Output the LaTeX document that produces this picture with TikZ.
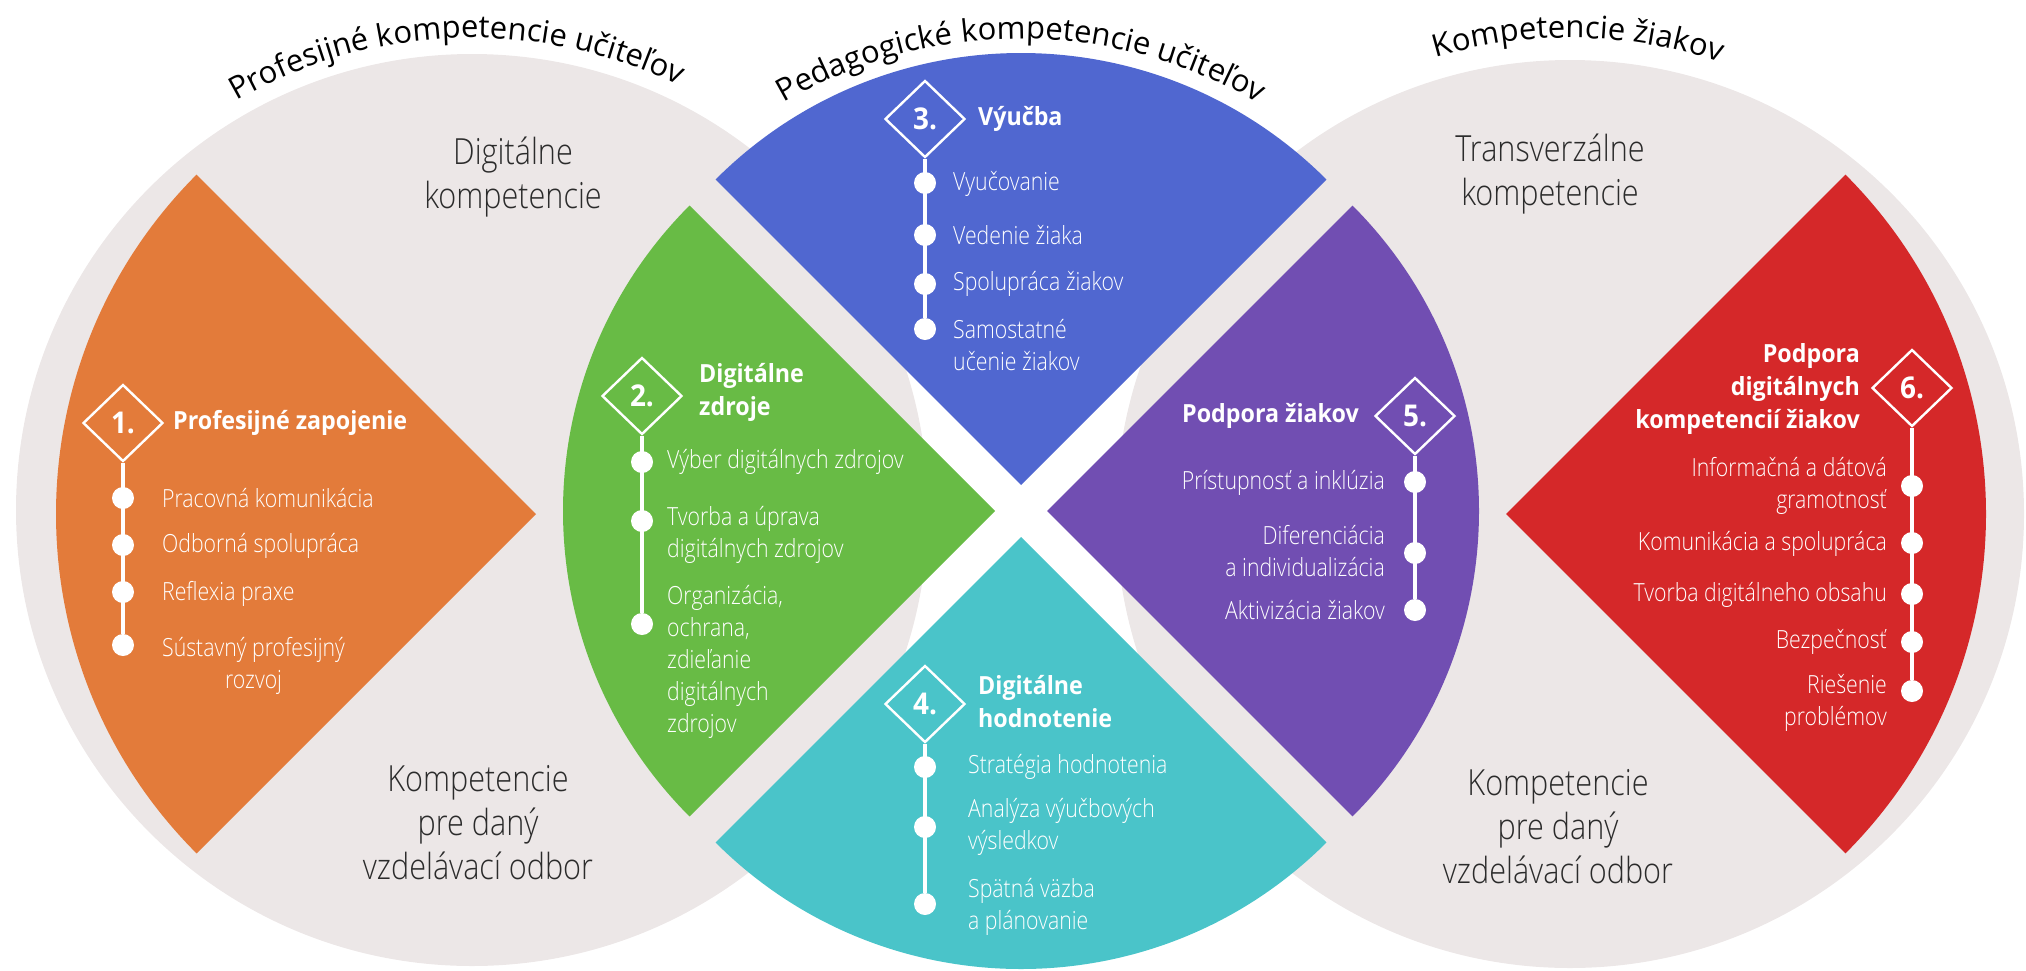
\documentclass[tikz,border=0pt]{standalone}
\usepackage{fontspec}
\setmainfont{Open Sans}
\usetikzlibrary{calc,decorations.text,shapes.geometric}

\IfFontExistsTF{Open Sans Light}
  {\newfontfamily\thinfont[FakeStretch=0.85]{Open Sans Light}}
  {\newfontfamily\thinfont[FakeStretch=0.85]{Open Sans}}
\newfontfamily\headfont[FakeStretch=0.93]{Open Sans}

\newcommand\titlesize{\fontsize{31}{36}\selectfont}
\newcommand\labelsize{\thinfont\fontsize{36}{44}\selectfont}
\newcommand\itemsize{\thinfont\fontsize{25}{32}\selectfont}
\newcommand\headsize{\headfont\bfseries\fontsize{25}{33}\selectfont}
\newcommand\numsize{\headfont\bfseries\fontsize{30}{30}\selectfont}

\definecolor{ringgray}{HTML}{ECE7E7}
\definecolor{labelgray}{HTML}{2B2B2B}
\definecolor{colProf}{HTML}{E37B3A}
\definecolor{colZdroje}{HTML}{68BB45}
\definecolor{colVyucba}{HTML}{5067D0}
\definecolor{colHodn}{HTML}{4AC4C9}
\definecolor{colPodpora}{HTML}{714EB2}
\definecolor{colDigi}{HTML}{D52829}

\tikzset{
  rhomb/.style={diamond, draw=white, line width=2.4pt, minimum width=80pt,
    minimum height=77pt, inner sep=0pt, text=white, font=\numsize},
  bead/.style={circle, fill=white, minimum size=22pt, inner sep=0pt},
  spine/.style={white, line width=4pt},
  itemL/.style={anchor=west, align=left, inner sep=0pt, text=white, font=\itemsize},
  itemR/.style={itemL, anchor=east, align=right},
  headL/.style={itemL, font=\headsize},
  headR/.style={itemR, font=\headsize},
  graylabel/.style={align=center, inner sep=0pt, text=labelgray, font=\labelsize},
}

\begin{document}
\begin{tikzpicture}[x=1pt, y=-1pt]
    \useasboundingbox (0,0) rectangle (2026,970);

    % centres of the three big discs
    \def\rad{456}
    \def\trad{472}
    \coordinate (L) at (472,510);
    \coordinate (F) at (1021,511);
    \coordinate (R) at (1570,514);

    % grey discs
    \fill[ringgray] (L) circle[radius=\rad];
    \fill[ringgray] (R) circle[radius=454];

    % titles along the arcs
    \path[decorate, decoration={text along path, text align=center,
        text={|\titlesize|Profesijné kompetencie učiteľov}}]
        ($(L)+(198:\trad)$) arc[start angle=198, end angle=338, radius=\trad];
    \path[decorate, decoration={text along path, text align=center,
        text={|\titlesize|Pedagogické kompetencie učiteľov}}]
        ($(F)+(200:\trad)$) arc[start angle=200, end angle=340, radius=\trad];
    \path[decorate, decoration={text along path, text align=center,
        text={|\titlesize|Kompetencie žiakov}}]
        ($(R)+(201:476)$) arc[start angle=201, end angle=341, radius=476];

    % outer wedges
    \fill[colProf] (536,514) -- ++(135:480) arc[start angle=135, end angle=225, radius=480] -- cycle;
    \fill[colDigi] (1506,514) -- ++(-45:480) arc[start angle=-45, end angle=45, radius=480] -- cycle;

    % the four quarters of the middle disc
    \def\qr{432}
    \fill[colZdroje] (995,511) -- ++(135:\qr) arc[start angle=135, end angle=225, radius=\qr] -- cycle;
    \fill[colVyucba] (1021,485) -- ++(225:\qr) arc[start angle=225, end angle=315, radius=\qr] -- cycle;
    \fill[colPodpora] (1047,511) -- ++(-45:\qr) arc[start angle=-45, end angle=45, radius=\qr] -- cycle;
    \fill[colHodn] (1021,537) -- ++(45:\qr) arc[start angle=45, end angle=135, radius=\qr] -- cycle;

    % grey labels
    \node[graylabel] (dk) at (513,177) {Digitálne\\kompetencie};
    \node[graylabel] (tk) at (1550,174) {Transverzálne\\kompetencie};
    \node[graylabel] (kl) at (478,823) {Kompetencie\\pre daný\\vzdelávací odbor};
    \node[graylabel] (kr) at (1558,827) {Kompetencie\\pre daný\\vzdelávací odbor};

    % 1. Profesijne zapojenie
    \node[rhomb] (d1) at (123,423) {1.};
    \node[headL] (h1) at (173,423) {Profesijné zapojenie};
    \foreach \y [count=\i] in {498,545,592,645}
        \node[bead] (d1\i) at (123,\y) {};
    \draw[spine] (d1) -- (d14);
    \node[itemL] (i11) at (162,498) {Pracovná komunikácia};
    \node[itemL] (i12) at (162,546) {Odborná spolupráca};
    \node[itemL] (i13) at (162,594) {Reflexia praxe};
    \node[itemL, align=center] (i14) at (162,666) {Sústavný profesijný\\rozvoj};

    % 2. Digitalne zdroje
    \node[rhomb] (d2) at (642,396) {2.};
    \node[headL] (h2) at (699,392) {Digitálne\\zdroje};
    \foreach \y [count=\i] in {462,521,624}
        \node[bead] (d2\i) at (642,\y) {};
    \draw[spine] (d2) -- (d23);
    \node[itemL] (i21) at (667,462) {Výber digitálnych zdrojov};
    \node[itemL] (i22) at (667,535) {Tvorba a úprava\\digitálnych zdrojov};
    \node[itemL] (i23) at (667,662) {Organizácia,\\ochrana,\\zdieľanie\\digitálnych\\zdrojov};

    % 3. Vyucba
    \node[rhomb] (d3) at (925,119) {3.};
    \node[headL] (h3) at (978,119) {Výučba};
    \foreach \y [count=\i] in {183,235,284,329}
        \node[bead] (d3\i) at (925,\y) {};
    \draw[spine] (d3) -- (d34);
    \node[itemL] (i31) at (953,184) {Vyučovanie};
    \node[itemL] (i32) at (953,235) {Vedenie žiaka};
    \node[itemL] (i33) at (953,284) {Spolupráca žiakov};
    \node[itemL] (i34) at (953,345) {Samostatné\\učenie žiakov};

    % 4. Digitalne hodnotenie
    \node[rhomb] (d4) at (925,704) {4.};
    \node[headL] (h4) at (978,702) {Digitálne\\hodnotenie};
    \foreach \y [count=\i] in {767,827,904}
        \node[bead] (d4\i) at (925,\y) {};
    \draw[spine] (d4) -- (d43);
    \node[itemL] (i41) at (968,767) {Stratégia hodnotenia};
    \node[itemL] (i42) at (968,827) {Analýza výučbových\\výsledkov};
    \node[itemL] (i43) at (968,907) {Spätná väzba\\a plánovanie};

    % 5. Podpora ziakov
    \node[rhomb] (d5) at (1415,416) {5.};
    \node[headR] (h5) at (1359,416) {Podpora žiakov};
    \foreach \y [count=\i] in {482,553,610}
        \node[bead] (d5\i) at (1415,\y) {};
    \draw[spine] (d5) -- (d53);
    \node[itemR] (i51) at (1385,483) {Prístupnosť a inklúzia};
    \node[itemR] (i52) at (1385,551) {Diferenciácia\\a individualizácia};
    \node[itemR] (i53) at (1385,610) {Aktivizácia žiakov};

    % 6. Podpora digitalnych kompetencii ziakov
    \node[rhomb] (d6) at (1912,388) {6.};
    \node[headR] (h6) at (1860,389) {Podpora\\digitálnych\\kompetencií žiakov};
    \foreach \y [count=\i] in {486,543,594,642,691}
        \node[bead] (d6\i) at (1912,\y) {};
    \draw[spine] (d6) -- (d65);
    \node[itemR] (i61) at (1887,486) {Informačná a dátová\\gramotnosť};
    \node[itemR] (i62) at (1887,544) {Komunikácia a spolupráca};
    \node[itemR] (i63) at (1887,595) {Tvorba digitálneho obsahu};
    \node[itemR] (i64) at (1887,642) {Bezpečnosť};
    \node[itemR] (i65) at (1887,703) {Riešenie\\problémov};

\end{tikzpicture}
\end{document}
